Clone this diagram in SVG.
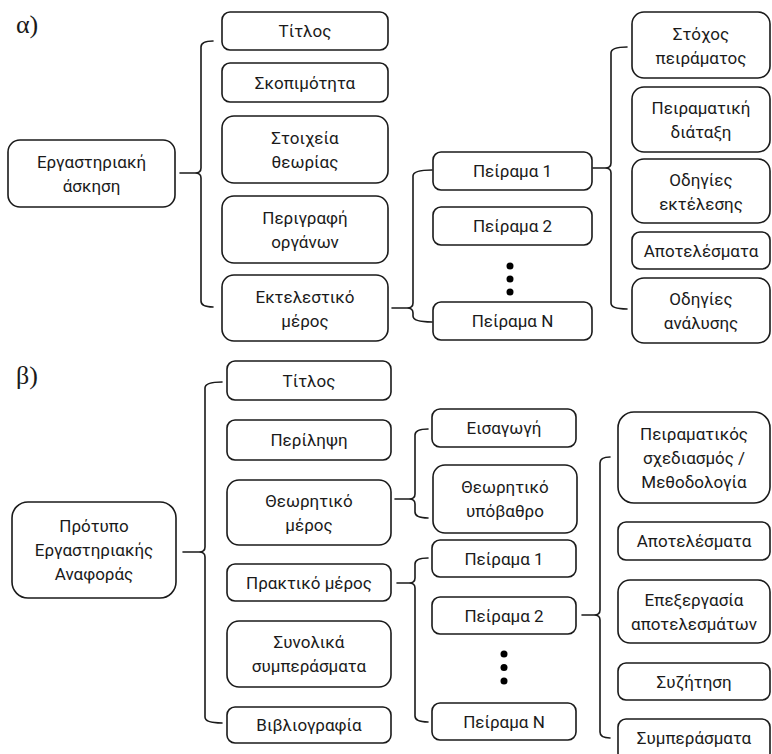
<svg xmlns="http://www.w3.org/2000/svg" width="772" height="754" viewBox="0 0 772 754">
<style>
  .bg{fill:#ffffff}
  .box{fill:#ffffff;stroke:#1a1a1a;stroke-width:1.6}
  .t{font-family:Roboto,"Open Sans","Noto Sans","DejaVu Sans",sans-serif;font-size:17px;fill:#1a1a1a;text-anchor:middle;dominant-baseline:central}
  .lbl{font-family:"Liberation Serif","DejaVu Serif",serif;font-size:26px;fill:#1a1a1a}
  .br{fill:none;stroke:#1a1a1a;stroke-width:1.6;stroke-linecap:round;stroke-linejoin:round}
  .dot{fill:#000000}
</style>
<rect class="bg" x="0" y="0" width="772" height="754"/>
<text class="lbl" x="16" y="33">α)</text>
<text class="lbl" x="16" y="384">β)</text>

<!-- Part a -->
<g id="a-root"><rect class="box" x="8" y="140" width="167" height="67" rx="12"/><text class="t" x="91.5" y="162">Εργαστηριακή</text><text class="t" x="91.5" y="186">άσκηση</text></g>
<g id="a-titlos"><rect class="box" x="222" y="12" width="166" height="38" rx="8"/><text class="t" x="305" y="31">Τίτλος</text></g>
<g id="a-skopimotita"><rect class="box" x="222" y="63" width="166" height="39" rx="8"/><text class="t" x="305" y="82.5">Σκοπιμότητα</text></g>
<g id="a-stoixeia"><rect class="box" x="222" y="116" width="166" height="67" rx="12"/><text class="t" x="305" y="138">Στοιχεία</text><text class="t" x="305" y="162">θεωρίας</text></g>
<g id="a-perigrafi"><rect class="box" x="222" y="196" width="166" height="67" rx="12"/><text class="t" x="305" y="218">Περιγραφή</text><text class="t" x="305" y="242">οργάνων</text></g>
<g id="a-ektelestiko"><rect class="box" x="222" y="275" width="166" height="66" rx="12"/><text class="t" x="305" y="297">Εκτελεστικό</text><text class="t" x="305" y="321">μέρος</text></g>
<g id="a-peirama1"><rect class="box" x="433" y="152" width="159" height="38" rx="8"/><text class="t" x="512.5" y="171">Πείραμα 1</text></g>
<g id="a-peirama2"><rect class="box" x="433" y="207" width="159" height="38" rx="8"/><text class="t" x="512.5" y="226">Πείραμα 2</text></g>
<g id="a-dots"><circle class="dot" cx="510" cy="266" r="3.5"/><circle class="dot" cx="510" cy="279" r="3.5"/><circle class="dot" cx="510" cy="292" r="3.5"/></g>
<g id="a-peiramaN"><rect class="box" x="433" y="302" width="159" height="38" rx="8"/><text class="t" x="512.5" y="321">Πείραμα Ν</text></g>
<g id="a-stoxos"><rect class="box" x="632" y="12" width="138" height="66" rx="12"/><text class="t" x="701" y="34">Στόχος</text><text class="t" x="701" y="58">πειράματος</text></g>
<g id="a-diataxi"><rect class="box" x="632" y="87" width="138" height="65" rx="12"/><text class="t" x="701" y="108">Πειραματική</text><text class="t" x="701" y="132">διάταξη</text></g>
<g id="a-odigies-ekt"><rect class="box" x="632" y="159" width="138" height="64" rx="12"/><text class="t" x="701" y="180">Οδηγίες</text><text class="t" x="701" y="204">εκτέλεσης</text></g>
<g id="a-apotelesmata"><rect class="box" x="632" y="232" width="138" height="37" rx="8"/><text class="t" x="701" y="250.5">Αποτελέσματα</text></g>
<g id="a-odigies-anal"><rect class="box" x="632" y="278" width="138" height="65" rx="12"/><text class="t" x="701" y="299">Οδηγίες</text><text class="t" x="701" y="323">ανάλυσης</text></g>

<!-- Part b -->
<g id="b-root"><rect class="box" x="12" y="502" width="164" height="96" rx="16"/><text class="t" x="94" y="526">Πρότυπο</text><text class="t" x="94" y="550">Εργαστηριακής</text><text class="t" x="94" y="574">Αναφοράς</text></g>
<g id="b-titlos"><rect class="box" x="227" y="361" width="164" height="39" rx="8"/><text class="t" x="309" y="380.5">Τίτλος</text></g>
<g id="b-perilipsi"><rect class="box" x="227" y="420" width="164" height="40" rx="8"/><text class="t" x="309" y="440">Περίληψη</text></g>
<g id="b-theoritiko"><rect class="box" x="227" y="480" width="164" height="65" rx="12"/><text class="t" x="309" y="501">Θεωρητικό</text><text class="t" x="309" y="525">μέρος</text></g>
<g id="b-praktiko"><rect class="box" x="227" y="564" width="164" height="37" rx="8"/><text class="t" x="309" y="582.5">Πρακτικό μέρος</text></g>
<g id="b-synolika"><rect class="box" x="227" y="621" width="164" height="66" rx="12"/><text class="t" x="309" y="642">Συνολικά</text><text class="t" x="309" y="666">συμπεράσματα</text></g>
<g id="b-vivliografia"><rect class="box" x="227" y="707" width="164" height="36" rx="8"/><text class="t" x="309" y="725">Βιβλιογραφία</text></g>
<g id="b-eisagogi"><rect class="box" x="432" y="409" width="144" height="38" rx="8"/><text class="t" x="504" y="428">Εισαγωγή</text></g>
<g id="b-ypovathro"><rect class="box" x="433" y="465" width="144" height="68" rx="12"/><text class="t" x="505" y="487">Θεωρητικό</text><text class="t" x="505" y="511">υπόβαθρο</text></g>
<g id="b-peirama1"><rect class="box" x="432" y="540" width="144" height="37" rx="8"/><text class="t" x="504" y="558.5">Πείραμα 1</text></g>
<g id="b-peirama2"><rect class="box" x="432" y="597" width="144" height="37" rx="8"/><text class="t" x="504" y="615.5">Πείραμα 2</text></g>
<g id="b-dots"><circle class="dot" cx="504" cy="654" r="3.5"/><circle class="dot" cx="504" cy="667.5" r="3.5"/><circle class="dot" cx="504" cy="681" r="3.5"/></g>
<g id="b-peiramaN"><rect class="box" x="432" y="703" width="144" height="37" rx="8"/><text class="t" x="504" y="721.5">Πείραμα Ν</text></g>
<g id="b-sxediasmos"><rect class="box" x="618" y="412" width="152" height="91" rx="16"/><text class="t" x="694" y="434">Πειραματικός</text><text class="t" x="694" y="458">σχεδιασμός /</text><text class="t" x="694" y="482">Μεθοδολογία</text></g>
<g id="b-apotelesmata"><rect class="box" x="618" y="522" width="152" height="38" rx="8"/><text class="t" x="694" y="541">Αποτελέσματα</text></g>
<g id="b-epexergasia"><rect class="box" x="618" y="580" width="152" height="63" rx="12"/><text class="t" x="694" y="600">Επεξεργασία</text><text class="t" x="694" y="624">αποτελεσμάτων</text></g>
<g id="b-syzitisi"><rect class="box" x="618" y="663" width="152" height="37" rx="8"/><text class="t" x="694" y="681.5">Συζήτηση</text></g>
<g id="b-symperasmata"><rect class="box" x="618" y="719" width="152" height="42" rx="8"/><text class="t" x="694" y="738">Συμπεράσματα</text></g>

<!-- Connectors (braces) -->
<g id="connectors">
  <path class="br" d="M213,41 Q201,41 201,47 V168 Q201,173 195,173 H180 M195,173 Q201,173 201,178 V301 Q201,307 213,307"/>
  <path class="br" d="M432,170 Q413,170 413,176 V303 Q413,308 407,308 H392 M407,308 Q413,308 413,313 V316 Q413,322 432,322"/>
  <path class="br" d="M627,47 Q611,47 611,53 V163 Q611,168 605,168 H593 M605,168 Q611,168 611,173 V303 Q611,309 627,309"/>
  <path class="br" d="M222,382 Q205,382 205,388 V547 Q205,552 199,552 H183 M199,552 Q205,552 205,557 V717 Q205,723 222,723"/>
  <path class="br" d="M428,429 Q415,429 415,435 V494 Q415,499 409,499 H395 M409,499 Q415,499 415,504 V512 Q415,518 428,518"/>
  <path class="br" d="M428,558 Q415,558 415,564 V578 Q415,583 409,583 H397 M409,583 Q415,583 415,588 V716 Q415,722 428,722"/>
  <path class="br" d="M610,457 Q600,457 600,463 V610 Q600,615 594,615 H582 M594,615 Q600,615 600,620 V732 Q600,738 610,738"/>
</g>
</svg>
